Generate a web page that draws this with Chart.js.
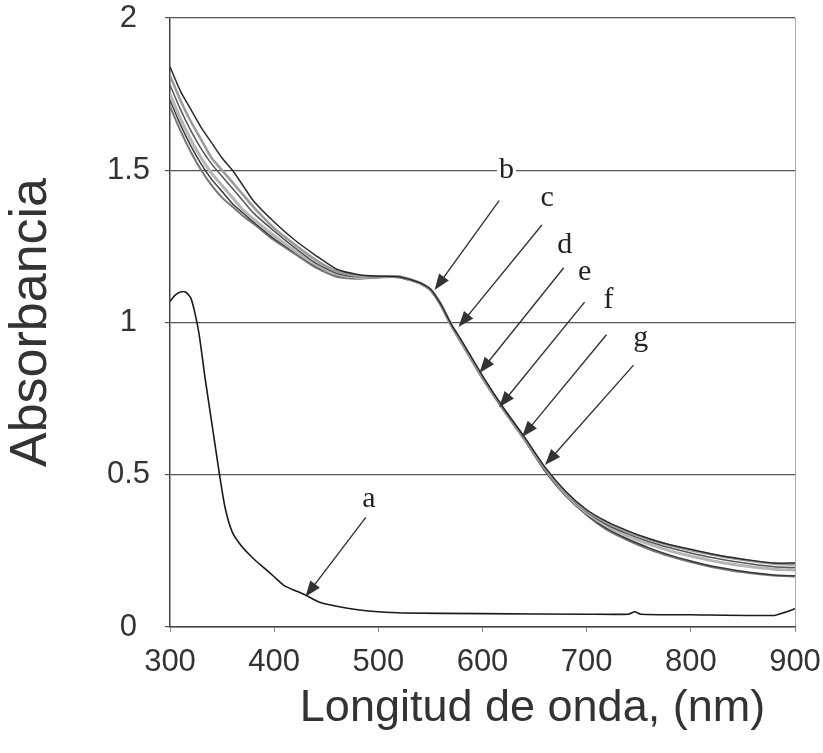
<!DOCTYPE html>
<html>
<head>
<meta charset="utf-8">
<script src="https://cdn.jsdelivr.net/npm/chart.js@4"></script>
<style>
  html, body { margin: 0; padding: 0; background: #fff; }
</style>
</head>
<body>
<canvas id="chart" width="823" height="753"></canvas>
<script>
// curve a (its own wavelength grid)
const aWl  = [300, 305, 310, 315, 320, 324, 328, 334, 341, 348, 353, 360, 370, 380, 390, 400, 410, 420, 430, 443, 460, 482, 500, 523, 600, 700, 740, 746, 752, 800, 880, 890, 900];
const aAbs = [1.07, 1.09, 1.10, 1.10, 1.08, 1.03, 0.96, 0.81, 0.65, 0.49, 0.39, 0.31, 0.26, 0.225, 0.195, 0.165, 0.135, 0.12, 0.105, 0.082, 0.068, 0.056, 0.05, 0.046, 0.044, 0.042, 0.042, 0.05, 0.042, 0.04, 0.038, 0.048, 0.06];

// curves b-g
const wl = [300, 310, 320, 330, 340, 350, 360, 370, 380, 400, 420, 440, 460, 480, 500, 520, 540, 550, 560, 570, 580, 600, 620, 640, 660, 680, 700, 720, 740, 760, 780, 800, 820, 840, 860, 880, 900];
const bAbs = [1.84, 1.76, 1.70, 1.64, 1.59, 1.54, 1.50, 1.45, 1.40, 1.33, 1.27, 1.22, 1.175, 1.158, 1.152, 1.15, 1.13, 1.11, 1.06, 0.995, 0.94, 0.825, 0.72, 0.625, 0.525, 0.445, 0.385, 0.345, 0.315, 0.29, 0.27, 0.255, 0.24, 0.228, 0.218, 0.21, 0.21];
const cAbs = [1.81, 1.73, 1.66, 1.60, 1.54, 1.50, 1.46, 1.42, 1.38, 1.31, 1.255, 1.205, 1.168, 1.152, 1.15, 1.15, 1.13, 1.108, 1.058, 0.99, 0.935, 0.82, 0.718, 0.622, 0.52, 0.44, 0.382, 0.342, 0.312, 0.288, 0.268, 0.252, 0.238, 0.226, 0.216, 0.208, 0.205];
const dAbs = [1.78, 1.70, 1.63, 1.57, 1.52, 1.48, 1.44, 1.40, 1.36, 1.30, 1.245, 1.195, 1.162, 1.15, 1.15, 1.148, 1.128, 1.105, 1.055, 0.99, 0.932, 0.818, 0.715, 0.62, 0.518, 0.438, 0.378, 0.335, 0.305, 0.28, 0.26, 0.243, 0.228, 0.216, 0.206, 0.198, 0.195];
const eAbs = [1.75, 1.67, 1.60, 1.54, 1.49, 1.45, 1.41, 1.37, 1.34, 1.285, 1.235, 1.19, 1.158, 1.148, 1.15, 1.15, 1.13, 1.108, 1.06, 0.992, 0.935, 0.82, 0.716, 0.62, 0.52, 0.436, 0.375, 0.33, 0.298, 0.272, 0.25, 0.233, 0.218, 0.206, 0.197, 0.19, 0.187];
const fAbs = [1.73, 1.65, 1.58, 1.52, 1.47, 1.43, 1.39, 1.36, 1.33, 1.275, 1.23, 1.185, 1.155, 1.146, 1.148, 1.148, 1.128, 1.105, 1.055, 0.988, 0.93, 0.815, 0.712, 0.615, 0.512, 0.43, 0.37, 0.322, 0.288, 0.26, 0.236, 0.217, 0.2, 0.188, 0.178, 0.171, 0.168];
const gAbs = [1.71, 1.63, 1.56, 1.50, 1.45, 1.41, 1.38, 1.35, 1.325, 1.27, 1.225, 1.18, 1.15, 1.144, 1.148, 1.15, 1.13, 1.108, 1.06, 0.99, 0.932, 0.818, 0.714, 0.618, 0.515, 0.432, 0.368, 0.318, 0.284, 0.255, 0.232, 0.213, 0.197, 0.185, 0.176, 0.169, 0.166];

const xTicks = [300, 400, 500, 600, 700, 800, 900];
const yTicks = [0, 0.5, 1, 1.5, 2];
const xTitle = 'Longitud de onda, (nm)';

// arrow labels: letter, label pos, arrow tail, arrow tip (data units)
const letters = ['a', 'b', 'c', 'd', 'e', 'f', 'g'];
const labelPos = [[491, 0.42], [623, 1.50], [662, 1.41], [679, 1.255], [698, 1.166], [721, 1.074], [752, 0.95]];
const arrowFrom = [[488, 0.36], [616, 1.40], [657, 1.32], [678, 1.18], [698, 1.067], [719, 0.96], [745, 0.86]];
const arrowTo = [[430, 0.099], [554, 1.107], [577, 0.985], [597, 0.834], [616, 0.722], [638, 0.624], [660, 0.532]];

const pts = (xs, ys) => xs.map((x, i) => ({ x: x, y: ys[i] }));

const line = (label, xs, ys, color, width) => ({
    label: label,
    data: pts(xs, ys),
    borderColor: color,
    borderWidth: width,
    pointRadius: 0,
    fill: false,
    tension: 0.2
});

const arrowPlugin = {
    id: 'arrows',
    afterDatasetsDraw(chart) {
        const { ctx, scales: { x, y } } = chart;
        ctx.save();
        for (let i = 0; i < letters.length; i++) {
            const x0 = x.getPixelForValue(arrowFrom[i][0]);
            const y0 = y.getPixelForValue(arrowFrom[i][1]);
            const x1 = x.getPixelForValue(arrowTo[i][0]);
            const y1 = y.getPixelForValue(arrowTo[i][1]);
            const ang = Math.atan2(y1 - y0, x1 - x0);
            const hl = 16, hw = 6;

            ctx.strokeStyle = '#333';
            ctx.fillStyle = '#333';
            ctx.lineWidth = 1.4;
            ctx.beginPath();
            ctx.moveTo(x0, y0);
            ctx.lineTo(x1 - Math.cos(ang) * hl * 0.8, y1 - Math.sin(ang) * hl * 0.8);
            ctx.stroke();

            ctx.beginPath();
            ctx.moveTo(x1, y1);
            ctx.lineTo(x1 - Math.cos(ang) * hl + Math.sin(ang) * hw, y1 - Math.sin(ang) * hl - Math.cos(ang) * hw);
            ctx.lineTo(x1 - Math.cos(ang) * hl - Math.sin(ang) * hw, y1 - Math.sin(ang) * hl + Math.cos(ang) * hw);
            ctx.closePath();
            ctx.fill();

            // letter with white backing so the gridline doesn't cross it
            ctx.font = '30px "Liberation Serif", "Times New Roman", serif';
            ctx.textAlign = 'center';
            ctx.textBaseline = 'middle';
            const lx = x.getPixelForValue(labelPos[i][0]);
            const ly = y.getPixelForValue(labelPos[i][1]);
            const w = ctx.measureText(letters[i]).width;
            ctx.fillStyle = '#fff';
            ctx.fillRect(lx - w / 2 - 2, ly - 8, w + 4, 16);
            ctx.fillStyle = '#222';
            ctx.fillText(letters[i], lx, ly);
        }
        ctx.restore();
    }
};

// x axis title sits right of the plot centre in the original
const xTitlePlugin = {
    id: 'xTitle',
    afterDraw(chart) {
        const { ctx, chartArea } = chart;
        ctx.save();
        ctx.font = '45px "Liberation Sans", Arial, sans-serif';
        ctx.fillStyle = '#333';
        ctx.textAlign = 'center';
        ctx.textBaseline = 'middle';
        ctx.fillText(xTitle, (chartArea.left + chartArea.right) / 2 + 50, chartArea.bottom + 82);
        ctx.restore();
    }
};

new Chart(document.getElementById('chart'), {
    type: 'line',
    data: {
        datasets: [
            line('b', wl, bAbs, '#2a2a2a', 1.5),
            line('c', wl, cAbs, '#9a9a9a', 2.5),
            line('d', wl, dAbs, '#555', 1.5),
            line('e', wl, eAbs, '#b5b5b5', 3),
            line('f', wl, fAbs, '#3a3a3a', 1.5),
            line('g', wl, gAbs, '#777', 2),
            line('a', aWl, aAbs, '#1a1a1a', 1.6)
        ]
    },
    options: {
        responsive: false,
        animation: false,
        layout: { padding: { top: 18, right: 28, bottom: 0, left: 0 } },
        plugins: {
            legend: { display: false },
            tooltip: { enabled: false }
        },
        scales: {
            x: {
                type: 'linear',
                min: 300,
                max: 900,
                afterBuildTicks: (s) => { s.ticks = xTicks.map(v => ({ value: v })); },
                afterFit: (s) => {
                    s.height = 126;
                    s.paddingLeft = 0;
                    s.paddingRight = 0;
                },
                ticks: {
                    color: '#333',
                    padding: 12,
                    maxRotation: 0,
                    font: { family: '"Liberation Sans", Arial, sans-serif', size: 31 }
                },
                grid: {
                    color: (c) => (c.tick && c.tick.value === 900 ? '#aaa' : 'rgba(0,0,0,0)'),
                    tickColor: '#888',
                    tickLength: 5
                },
                border: { color: '#444', width: 1.5 },
                title: { display: false }
            },
            y: {
                min: 0,
                max: 2,
                afterBuildTicks: (s) => { s.ticks = yTicks.map(v => ({ value: v })); },
                afterFit: (s) => {
                    s.width = 170;
                    s.paddingTop = 0;
                    s.paddingBottom = 0;
                },
                ticks: {
                    color: '#333',
                    padding: 15,
                    crossAlign: 'center',
                    callback: (v) => String(v),
                    font: { family: '"Liberation Sans", Arial, sans-serif', size: 31 }
                },
                grid: {
                    color: '#555',
                    lineWidth: 1.2,
                    tickLength: 5
                },
                border: { color: '#444', width: 1.5 },
                title: {
                    display: true,
                    text: 'Absorbancia',
                    color: '#333',
                    padding: 0,
                    font: { family: '"Liberation Sans", Arial, sans-serif', size: 52 }
                }
            }
        }
    },
    plugins: [arrowPlugin, xTitlePlugin]
});
</script>
</body>
</html>
